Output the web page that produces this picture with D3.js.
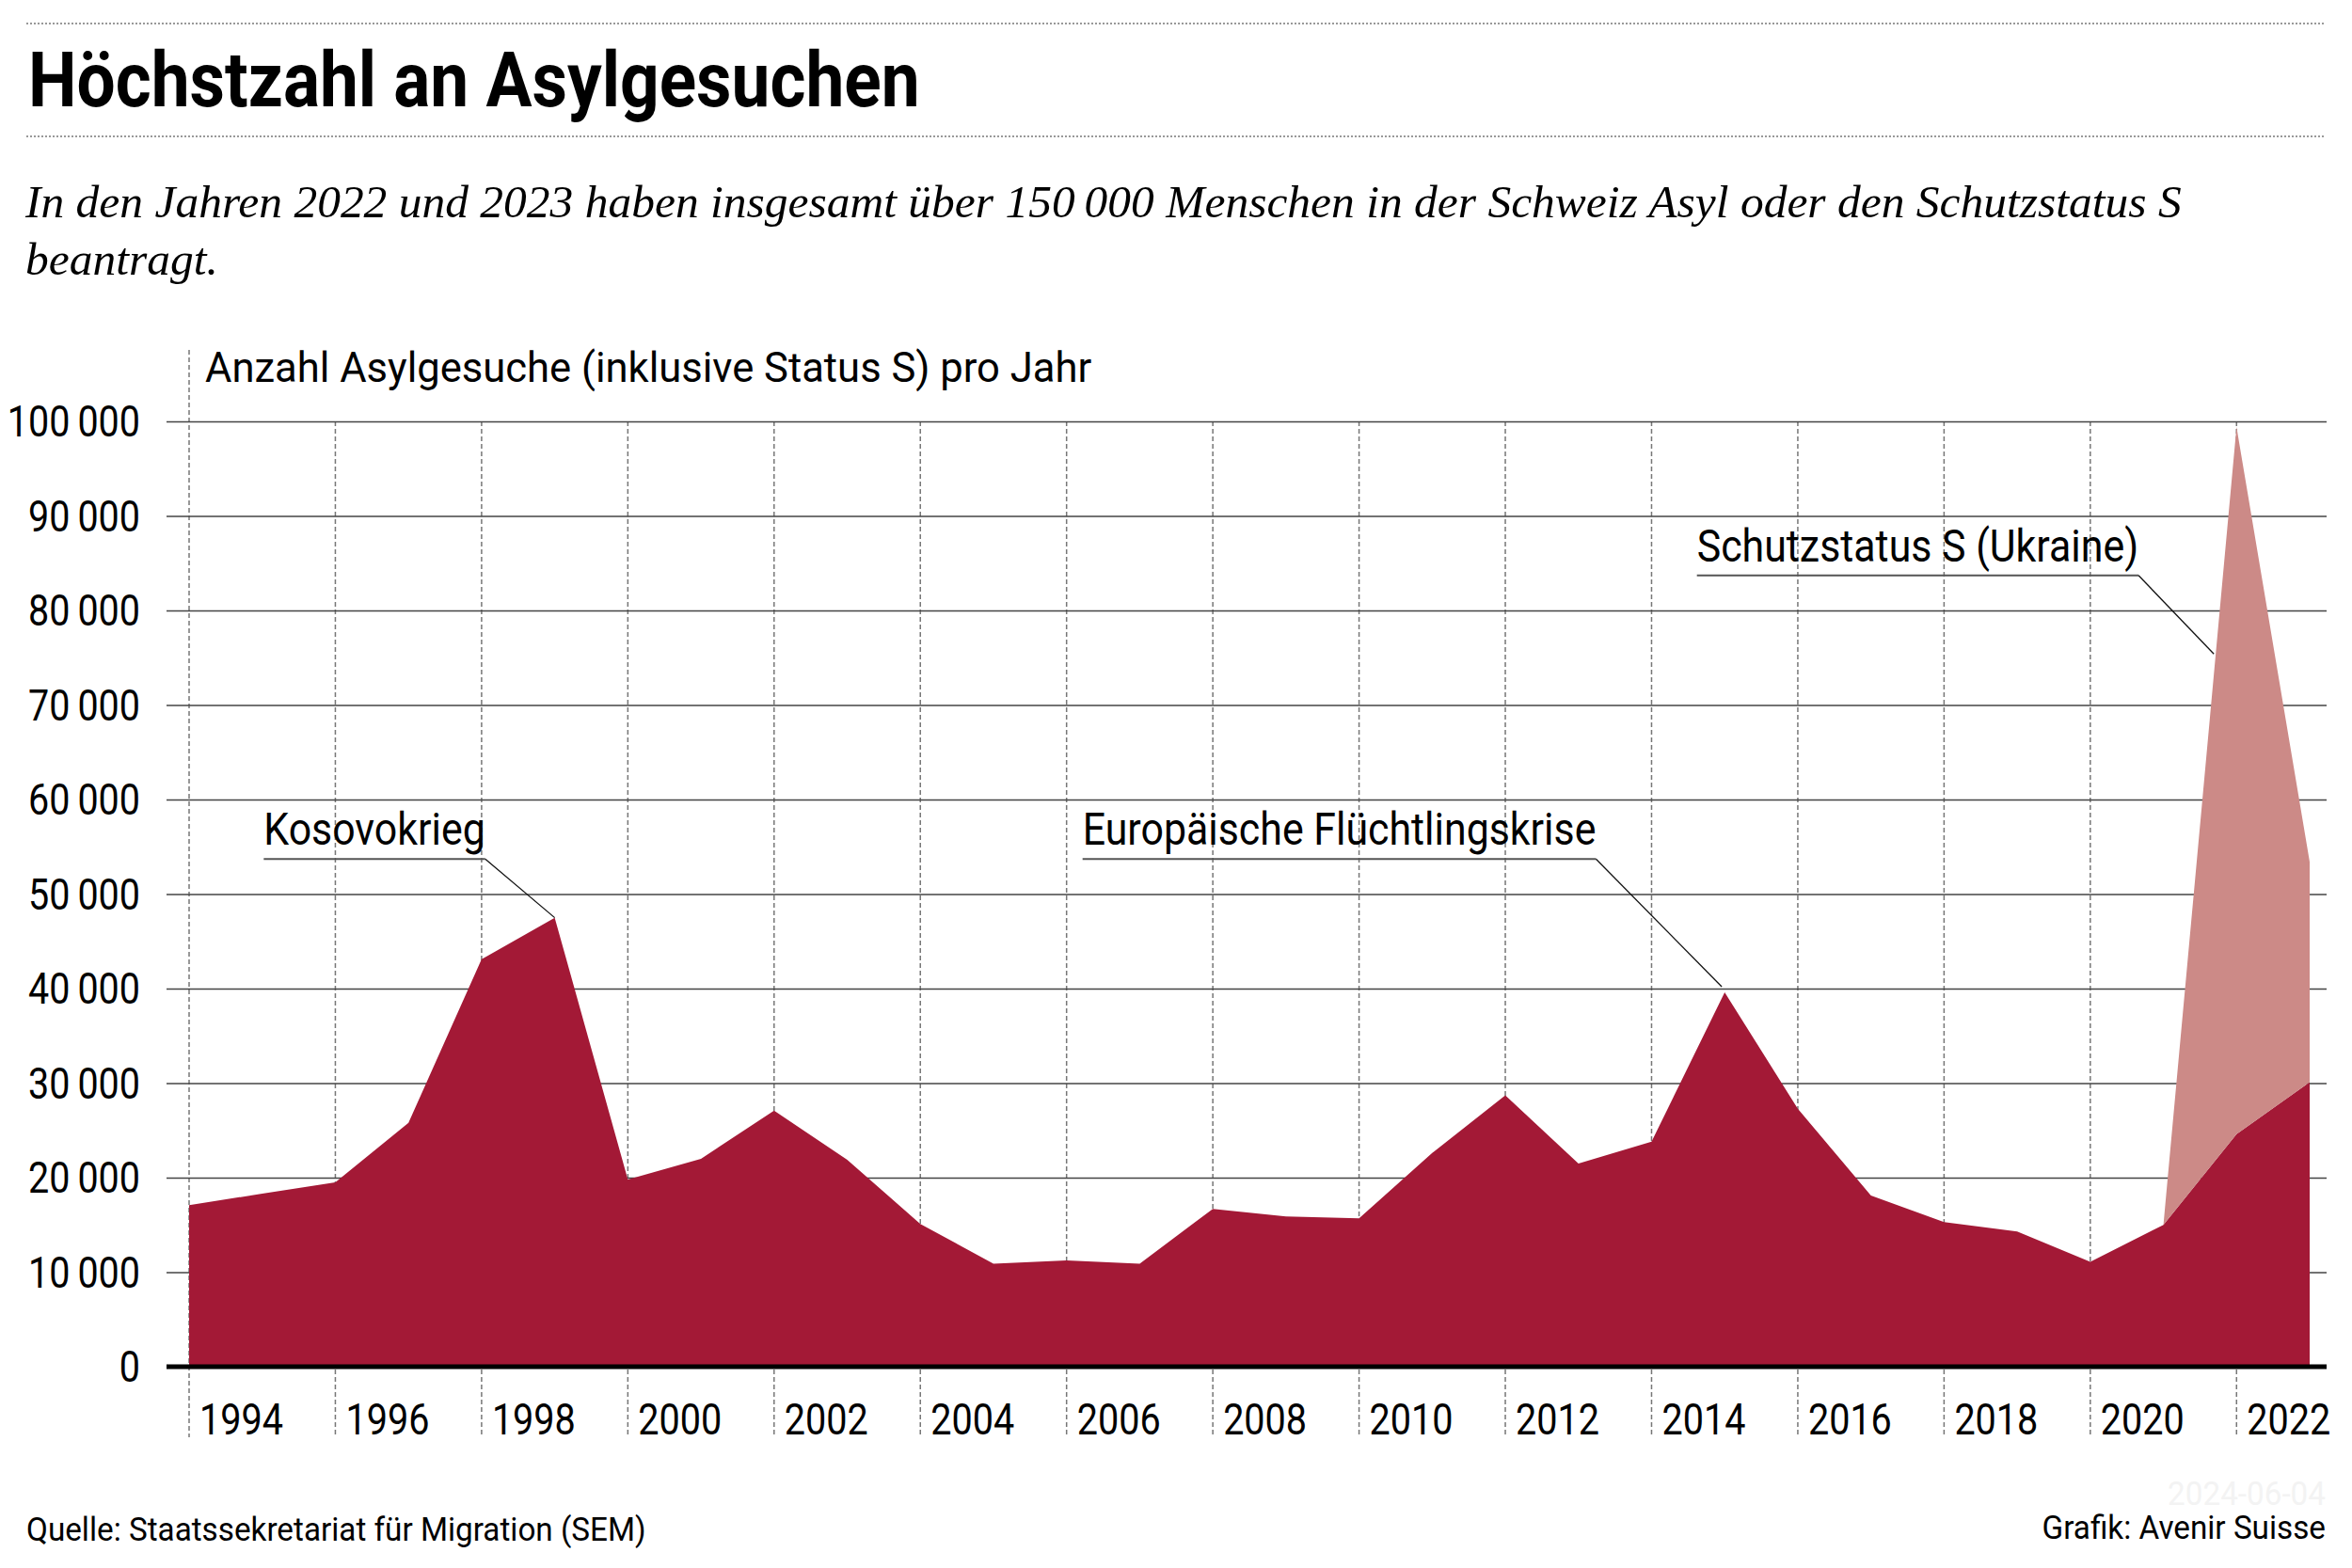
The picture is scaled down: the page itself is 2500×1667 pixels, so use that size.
<!DOCTYPE html>
<html>
<head>
<meta charset="utf-8">
<script src="https://cdn.jsdelivr.net/npm/d3@7"></script>
<style>
  body { margin: 0; background: #fff; }
  text { font-family: Roboto, "Noto Sans", sans-serif; fill: #000; }
</style>
</head>
<body>
<div id="chart"></div>
<script>

// data
var years = [1994, 1995, 1996, 1997, 1998, 1999, 2000, 2001, 2002, 2003,
             2004, 2005, 2006, 2007, 2008, 2009, 2010, 2011, 2012, 2013,
             2014, 2015, 2016, 2017, 2018, 2019, 2020, 2021, 2022, 2023];
var asylumRequests = [17100, 18300, 19500, 25800, 43100, 47500, 19800, 22000, 27100, 21900,
                      15100, 10900, 11250, 10900, 16700, 15900, 15700, 22600, 28700, 21500,
                      23800, 39600, 27300, 18100, 15300, 14300, 11100, 15000, 24600, 30100];
var statusYears = [2021, 2022, 2023];
var statusS = [0, 74800, 23300];

var yTicks = [0, 10000, 20000, 30000, 40000, 50000, 60000, 70000, 80000, 90000, 100000];
var xTickYears = [1994, 1996, 1998, 2000, 2002, 2004, 2006, 2008, 2010, 2012, 2014, 2016, 2018, 2020, 2022];

var annotationTexts = ["Kosovokrieg", "Europäische Flüchtlingskrise", "Schutzstatus S (Ukraine)"];
var annotationElbows = [[1998.05, 53700], [2013.24, 53700], [2020.66, 83700]];
var annotationTargets = [[1999, 47500], [2014.96, 40200], [2021.69, 75400]];

var svgWidth = 2500;
var svgHeight = 1667;

var darkRed = "#a31936";
var lightRed = "#cc8a87";

var svg = d3.select("#chart")
  .append("svg")
  .attr("width", svgWidth)
  .attr("height", svgHeight);

// squeeze text horizontally to imitate the condensed face of the original
function condense(sel, k) {
  sel.each(function() {
    var w = this.getComputedTextLength();
    d3.select(this)
      .attr("textLength", w * k)
      .attr("lengthAdjust", "spacingAndGlyphs");
  });
}

var fmt = d3.formatLocale({ decimal: ".", thousands: "\u2009", grouping: [3], currency: ["", ""] }).format(",d");

// scales
var xScale = d3.scaleLinear()
  .domain([1994, 2023])
  .range([201, 2455]);

var yScale = d3.scaleLinear()
  .domain([0, 100000])
  .range([1453, 448]);

var gridLeft = 177, gridRight = 2473;

// header
svg.append("line")
  .attr("x1", 28).attr("x2", 2472).attr("y1", 25).attr("y2", 25)
  .attr("stroke", "#999").attr("stroke-width", 2).attr("stroke-dasharray", "2 2");

svg.append("text")
  .attr("x", 30).attr("y", 113)
  .attr("font-size", 82).attr("font-weight", 700)
  .text("Höchstzahl an Asylgesuchen")
  .call(condense, 0.89);

svg.append("line")
  .attr("x1", 28).attr("x2", 2472).attr("y1", 145).attr("y2", 145)
  .attr("stroke", "#999").attr("stroke-width", 2).attr("stroke-dasharray", "2 2");

var subtitleLines = [
  "In den Jahren 2022 und 2023 haben insgesamt über 150\u2009000 Menschen in der Schweiz Asyl oder den Schutzstatus S",
  "beantragt."
];
svg.selectAll(".subtitle")
  .data(subtitleLines)
  .enter()
  .append("text")
  .attr("class", "subtitle")
  .attr("x", 27)
  .attr("y", (d, i) => 231 + i * 61)
  .attr("font-size", 49)
  .attr("font-style", "italic")
  .style("font-family", "'Liberation Serif', serif")
  .text(d => d)
  .call(condense, 1.01);

// grid
var grid = svg.append("g");

grid.selectAll(".vgrid")
  .data(xTickYears)
  .enter()
  .append("line")
  .attr("class", "vgrid")
  .attr("x1", d => xScale(d)).attr("x2", d => xScale(d))
  .attr("y1", (d, i) => i === 0 ? 372 : yScale(100000))
  .attr("y2", 1528)
  .attr("stroke", "#777")
  .attr("stroke-width", 1.5)
  .attr("stroke-dasharray", "5 3");

var yAxis = d3.axisLeft(yScale)
  .tickValues(yTicks)
  .tickSize(-(gridRight - gridLeft))
  .tickPadding(28)
  .tickFormat(fmt);

var yAxisGroup = grid.append("g")
  .attr("transform", `translate(${gridLeft}, 0)`)
  .call(yAxis);

yAxisGroup.select(".domain").remove();
yAxisGroup.selectAll(".tick line")
  .attr("stroke", "#444")
  .attr("stroke-width", 1.6);
yAxisGroup.selectAll(".tick text")
  .attr("font-size", 47)
  .attr("font-family", null)
  .attr("dy", "0.34em")
  .call(condense, 0.84);

// axis title
svg.append("text")
  .attr("x", 218).attr("y", 406)
  .attr("font-size", 44)
  .text("Anzahl Asylgesuche (inklusive Status S) pro Jahr")
  .call(condense, 0.99);

// areas
var asylumData = years.map((y, i) => ({ year: y, value: asylumRequests[i] }));
var statusData = statusYears.map((y, i) => ({
  year: y,
  base: asylumRequests[years.indexOf(y)],
  value: statusS[i]
}));

var areaAsylum = d3.area()
  .x(d => xScale(d.year))
  .y0(yScale(0))
  .y1(d => yScale(d.value));

var areaStatus = d3.area()
  .x(d => xScale(d.year))
  .y0(d => yScale(d.base))
  .y1(d => yScale(d.base + d.value));

svg.append("path")
  .datum(asylumData)
  .attr("d", areaAsylum)
  .attr("fill", darkRed);

svg.append("path")
  .datum(statusData)
  .attr("d", areaStatus)
  .attr("fill", lightRed);

// zero line
svg.append("line")
  .attr("x1", gridLeft).attr("x2", gridRight)
  .attr("y1", yScale(0)).attr("y2", yScale(0))
  .attr("stroke", "#000").attr("stroke-width", 5);

// year labels
svg.selectAll(".year")
  .data(xTickYears)
  .enter()
  .append("text")
  .attr("class", "year")
  .attr("x", d => xScale(d) + 11)
  .attr("y", 1525)
  .attr("font-size", 46)
  .text(d => d)
  .call(condense, 0.86);

// annotations
var annot = svg.append("g");
annotationTexts.forEach(function(t, i) {
  var ex = xScale(annotationElbows[i][0]), ey = yScale(annotationElbows[i][1]);
  var tx = xScale(annotationTargets[i][0]), ty = yScale(annotationTargets[i][1]);
  var label = annot.append("text")
    .attr("x", ex).attr("y", ey - 15)
    .attr("text-anchor", "end")
    .attr("font-size", 49)
    .text(t)
    .call(condense, 0.875);
  var w = +label.attr("textLength");
  annot.append("line")
    .attr("x1", ex - w).attr("x2", ex).attr("y1", ey).attr("y2", ey)
    .attr("stroke", "#555").attr("stroke-width", 2);
  annot.append("line")
    .attr("x1", ex).attr("x2", tx).attr("y1", ey).attr("y2", ty)
    .attr("stroke", "#111").attr("stroke-width", 1.3);
});

// footer
svg.append("text")
  .attr("x", 28).attr("y", 1638)
  .attr("font-size", 35)
  .text("Quelle: Staatssekretariat für Migration (SEM)")
  .call(condense, 0.95);

svg.append("text")
  .attr("x", 2472).attr("y", 1600)
  .attr("text-anchor", "end")
  .attr("font-size", 35)
  .style("fill", "#f3f3f3")
  .text("2024-06-04")
  .call(condense, 0.95);

svg.append("text")
  .attr("x", 2472).attr("y", 1636)
  .attr("text-anchor", "end")
  .attr("font-size", 35)
  .text("Grafik: Avenir Suisse")
  .call(condense, 0.95);

</script>
</body>
</html>
